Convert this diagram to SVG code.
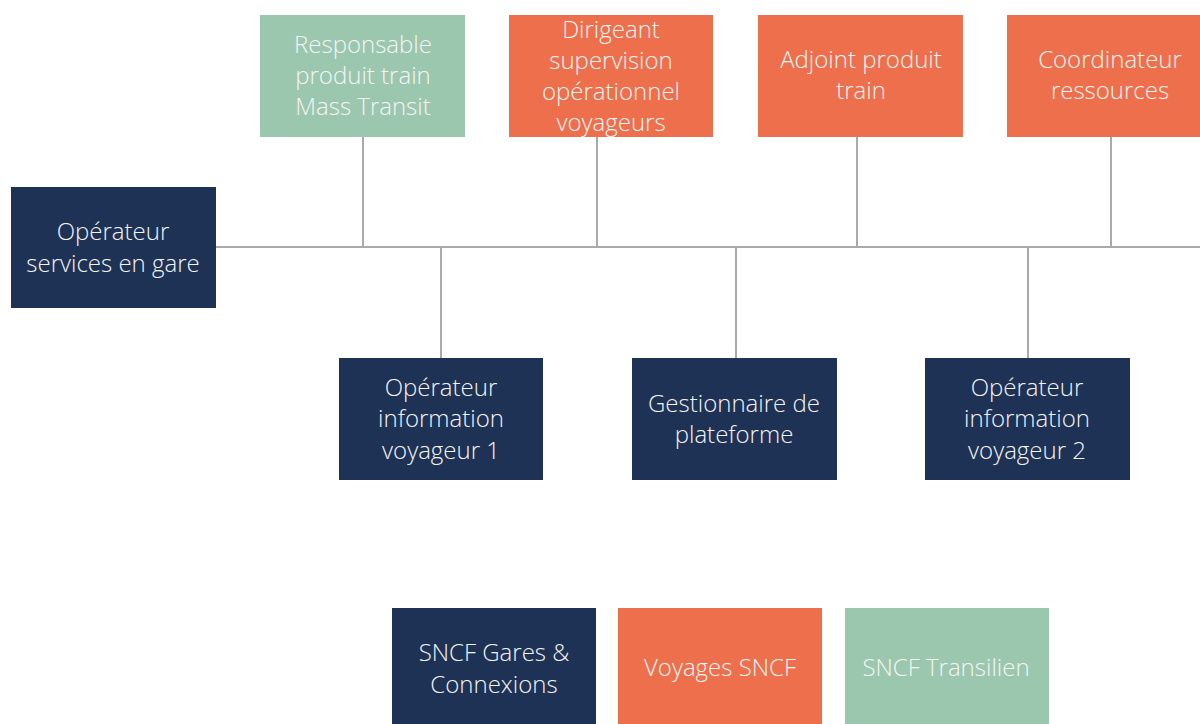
<svg xmlns="http://www.w3.org/2000/svg" width="1200" height="724" viewBox="0 0 1200 724">
<style>
.navy{fill:#1E3255}
.orange{fill:#ED6F4C}
.green{fill:#9CC7AF}
text{font-family:"Open Sans","Lato",sans-serif;font-weight:300;font-size:24px;fill:#F4F4F4;text-anchor:middle}
.conn line{stroke:#AAAAAA;stroke-width:2}
</style>
<rect width="1200" height="724" fill="#FFFFFF"/>
<g class="conn" id="connectors">
<line x1="216" y1="247" x2="1200" y2="247"/>
<line x1="363" y1="137" x2="363" y2="247"/>
<line x1="597" y1="137" x2="597" y2="247"/>
<line x1="857" y1="137" x2="857" y2="247"/>
<line x1="1111" y1="137" x2="1111" y2="247"/>
<line x1="441" y1="247" x2="441" y2="358"/>
<line x1="736" y1="247" x2="736" y2="358"/>
<line x1="1028" y1="247" x2="1028" y2="358"/>
</g>
<g id="responsable">
<rect class="green" x="260" y="15" width="205" height="122"/>
<text x="363" y="53">Responsable</text>
<text x="363" y="84">produit train</text>
<text x="363" y="115">Mass Transit</text>
</g>
<g id="dirigeant">
<rect class="orange" x="509" y="15" width="204" height="122"/>
<text x="611" y="38">Dirigeant</text>
<text x="611" y="69">supervision</text>
<text x="611" y="100">opérationnel</text>
<text x="611" y="131">voyageurs</text>
</g>
<g id="adjoint">
<rect class="orange" x="758" y="15" width="205" height="122"/>
<text x="861" y="68">Adjoint produit</text>
<text x="861" y="99">train</text>
</g>
<g id="coordinateur">
<rect class="orange" x="1007" y="15" width="193" height="122"/>
<text x="1110" y="68">Coordinateur</text>
<text x="1110" y="99">ressources</text>
</g>
<g id="operateur-services">
<rect class="navy" x="11" y="187" width="205" height="121"/>
<text x="113" y="240">Opérateur</text>
<text x="113" y="272">services en gare</text>
</g>
<g id="operateur-info-1">
<rect class="navy" x="339" y="358" width="204" height="122"/>
<text x="441" y="396">Opérateur</text>
<text x="441" y="427">information</text>
<text x="441" y="459">voyageur 1</text>
</g>
<g id="gestionnaire">
<rect class="navy" x="632" y="358" width="205" height="122"/>
<text x="734" y="412">Gestionnaire de</text>
<text x="734" y="443">plateforme</text>
</g>
<g id="operateur-info-2">
<rect class="navy" x="925" y="358" width="205" height="122"/>
<text x="1027" y="396">Opérateur</text>
<text x="1027" y="427">information</text>
<text x="1027" y="459">voyageur 2</text>
</g>
<g id="legend-gc">
<rect class="navy" x="392" y="608" width="204" height="116"/>
<text x="494" y="661">SNCF Gares &amp;</text>
<text x="494" y="693">Connexions</text>
</g>
<g id="legend-voyages">
<rect class="orange" x="618" y="608" width="204" height="116"/>
<text x="720" y="676">Voyages SNCF</text>
</g>
<g id="legend-transilien">
<rect class="green" x="845" y="608" width="204" height="116"/>
<text x="946" y="676">SNCF Transilien</text>
</g>
</svg>
